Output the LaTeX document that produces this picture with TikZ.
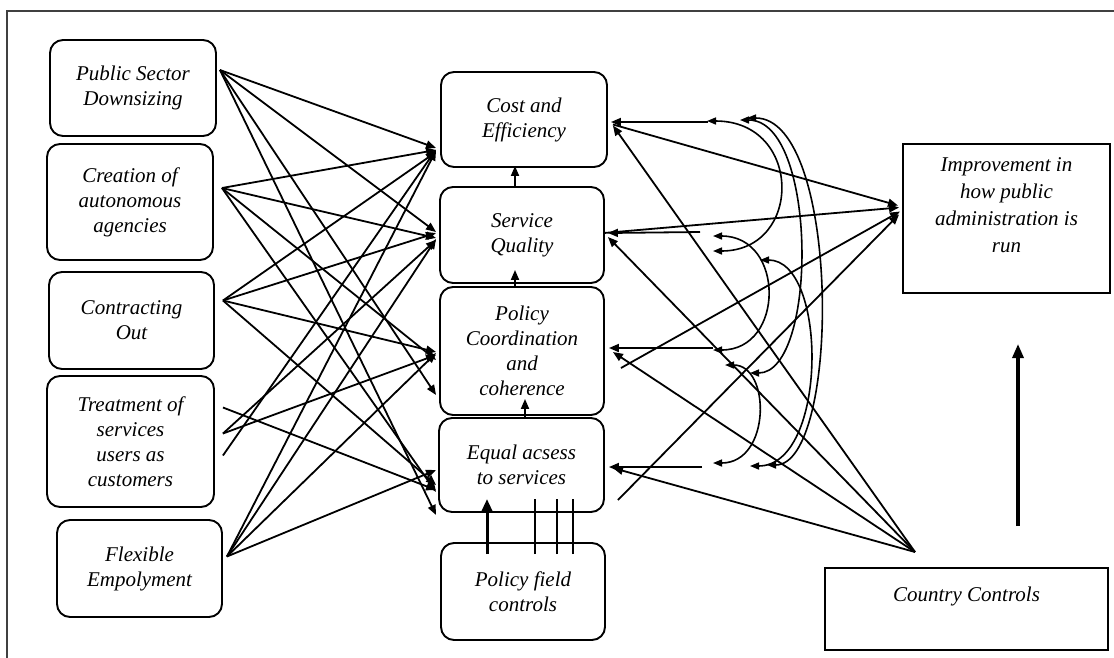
\documentclass[tikz,border=0pt]{standalone}
\usepackage{fontspec}
\setmainfont{Liberation Serif}
\usetikzlibrary{arrows.meta,calc}
\begin{document}
\begin{tikzpicture}[x=1pt,y=-1pt,
  box/.style={draw, line width=1.9pt, rounded corners=13pt, align=center, inner sep=0pt,
    font=\fontsize{21}{25}\selectfont\itshape},
  sqbox/.style={draw, line width=2pt, inner sep=0pt, font=\fontsize{21}{27}\selectfont\itshape},
  arr/.style={line width=1.8pt, -{Triangle[length=10pt,width=8pt]}},
  dbl/.style={line width=1.6pt, {Triangle[length=9pt,width=7pt]}-{Triangle[length=9pt,width=7pt]}},
  thin/.style={line width=1.1pt},
  thick arr/.style={line width=3pt, -{Triangle[length=12pt,width=10pt]}}]

\useasboundingbox (0,0) rectangle (1114,657);
\clip (0,0) rectangle (1114,657);
\fill[white] (0,0) rectangle (1114,657);
\draw[line width=2.2pt, black!75] (7,680) -- (7,11) -- (1130,11);

% left column
\node[box, minimum width=166pt, minimum height=96pt]  (psd) at (133,88)    {Public Sector\\Downsizing};
\node[box, minimum width=166pt, minimum height=116pt] (cre) at (130,202)   {Creation of\\autonomous\\agencies};
\node[box, minimum width=165pt, minimum height=97pt]  (con) at (131.5,320.5) {Contracting\\Out};
\node[box, minimum width=167pt, minimum height=131pt] (tre) at (130.5,441.5) {Treatment of\\services\\users as\\customers};
\node[box, minimum width=165pt, minimum height=97pt]  (flx) at (139.5,568.5) {Flexible\\Empolyment};

% middle column
\node[box, minimum width=166pt, minimum height=95pt]  (cost) at (524,119.5) {Cost and\\Efficiency};
\node[box, minimum width=164pt, minimum height=96pt]  (serv) at (522,235)   {Service\\Quality};
\node[box, minimum width=164pt, minimum height=128pt] (pol)  at (522,351)   {Policy\\Coordination\\and\\coherence};
\node[box, minimum width=165pt, minimum height=94pt]  (eq)   at (521.5,465) {Equal acsess\\to services};
\node[box, minimum width=164pt, minimum height=97pt]  (pfc)  at (523,591.5) {Policy field\\controls};

% right column
\node[sqbox, minimum width=207pt, minimum height=149pt] (imp) at (1006.5,218.5)
  {\parbox[c][149pt][t]{207pt}{\centering\vspace{14pt}Improvement in\\how public\\administration is\\run}};
\node[sqbox, minimum width=283pt, minimum height=82pt] (cc) at (966.5,609)
  {\parbox[c][82pt][t]{283pt}{\centering\vspace{19pt}Country Controls}};

% left -> middle
\draw[arr] ($(psd.east)+(3,-18)$) -- ($(cost.west)+(-4,28.5)$);
\draw[arr] ($(psd.east)+(3,-18)$) -- ($(serv.west)+(-3,-3)$);
\draw[arr] ($(psd.east)+(3,-18)$) -- ($(pol.west)+(-3,44)$);
\draw[arr] ($(psd.east)+(3,-18)$) -- ($(eq.west)+(-2,50)$);

\draw[arr] ($(cre.east)+(8,-14)$) -- ($(cost.west)+(-4,30.5)$);
\draw[arr] ($(cre.east)+(8,-14)$) -- ($(serv.west)+(-3,3)$);
\draw[arr] ($(cre.east)+(8,-14)$) -- ($(pol.west)+(-3,9)$);
\draw[arr] ($(cre.east)+(8,-14)$) -- ($(eq.west)+(-2,27)$);

\draw[arr] ($(con.east)+(8,-20)$) -- ($(cost.west)+(-4,32.5)$);
\draw[arr] ($(con.east)+(8,-20)$) -- ($(serv.west)+(-3,-2)$);
\draw[arr] ($(con.east)+(8,-20)$) -- ($(pol.west)+(-3,1)$);
\draw[arr] ($(con.east)+(8,-20)$) -- ($(eq.west)+(-2,20)$);

\draw[arr] ($(tre.east)+(8,14)$)  -- ($(cost.west)+(-4,30)$);
\draw[arr] ($(tre.east)+(8,-8)$)  -- ($(serv.west)+(-3,5)$);
\draw[arr] ($(tre.east)+(8,-8)$)  -- ($(pol.west)+(-3,4)$);
\draw[arr] ($(tre.east)+(8,-34)$) -- ($(eq.west)+(-2,25)$);

\draw[arr] ($(flx.east)+(4,-12)$) -- ($(cost.west)+(-4,31)$);
\draw[arr] ($(flx.east)+(4,-12)$) -- ($(serv.west)+(-3,4)$);
\draw[arr] ($(flx.east)+(4,-12)$) -- ($(pol.west)+(-3,2)$);
\draw[arr] ($(flx.east)+(4,-12)$) -- ($(eq.west)+(-2,5)$);

% within middle column
\draw[arr] ($(serv.north)+(-7,0)$) -- ($(cost.south)+(-9,-2)$);
\draw[arr] ($(pol.north)+(-7,0)$) -- ($(serv.south)+(-7,-14)$);
\draw[arr] ($(eq.north)+(3.5,0)$) -- ($(pol.south)+(3,-17)$);

% policy field controls
\draw[thick arr] ($(pfc.north)+(-36,12)$) -- ($(eq.south)+(-34.5,-14)$);
\draw[thin] ($(pfc.north)+(12,12)$) -- ($(eq.south)+(13.5,-14)$);
\draw[thin] ($(pfc.north)+(34,12)$) -- ($(eq.south)+(35.5,-14)$);
\draw[thin] ($(pfc.north)+(50,12)$) -- ($(eq.south)+(51.5,-14)$);

% middle -> improvement
\draw[arr] ($(cost.east)+(5,5)$)   -- ($(imp.west)+(-4,-13)$);
\draw[arr] ($(serv.east)+(-1,-2)$) -- ($(imp.west)+(-3,-11)$);
\draw[arr] ($(pol.east)+(16,17)$)  -- ($(imp.west)+(-2,-7)$);
\draw[arr] ($(eq.east)+(13,35)$)   -- ($(imp.west)+(-3,-4)$);

% country controls -> middle
\draw[arr] ($(cc.north)+(-51.5,-15)$) -- ($(cost.east)+(5,6)$);
\draw[arr] ($(cc.north)+(-51.5,-15)$) -- ($(serv.east)+(3,2)$);
\draw[arr] ($(cc.north)+(-51.5,-15)$) -- ($(pol.east)+(8,1)$);
\draw[arr] ($(cc.north)+(-51.5,-15)$) -- ($(eq.east)+(8,3)$);

% country controls -> improvement
\draw[line width=3.2pt, -{Triangle[length=14pt,width=11pt]}] ($(cc.north)+(51.5,-41)$) -- ($(imp.south)+(11.5,50)$);

% disturbances
\coordinate (d1) at (708,122);
\coordinate (d2) at (700,232);
\coordinate (d3) at (713,348);
\coordinate (d4) at (702,467);
\draw[arr] (d1) -- ($(cost.east)+(3,2.5)$);
\draw[arr] (d2) -- ($(serv.east)+(3,-2)$);
\draw[arr] (d3) -- ($(pol.east)+(4,-3)$);
\draw[arr] (d4) -- ($(eq.east)+(4,2)$);

% covariances
\coordinate (csa) at (707,121); \coordinate (csb) at (713,251);
\coordinate (cpa) at (740,120); \coordinate (cpb) at (750,373);
\coordinate (cea) at (747,118); \coordinate (ceb) at (767,465);
\coordinate (spa) at (713,236); \coordinate (spb) at (713,350);
\coordinate (sea) at (760,260); \coordinate (seb) at (750,466);
\coordinate (pea) at (725,365); \coordinate (peb) at (713,463);
\draw[dbl] (csa) .. controls (803,121) and (803,251) .. (csb);
\draw[dbl] (cpa) .. controls (818,120) and (818,373) .. (cpb);
\draw[dbl] (cea) .. controls (841,118) and (841,465) .. (ceb);
\draw[dbl] (spa) .. controls (785,236) and (785,350) .. (spb);
\draw[dbl] (sea) .. controls (828,260) and (828,466) .. (seb);
\draw[dbl] (pea) .. controls (771,365) and (771,463) .. (peb);
\end{tikzpicture}
\end{document}
